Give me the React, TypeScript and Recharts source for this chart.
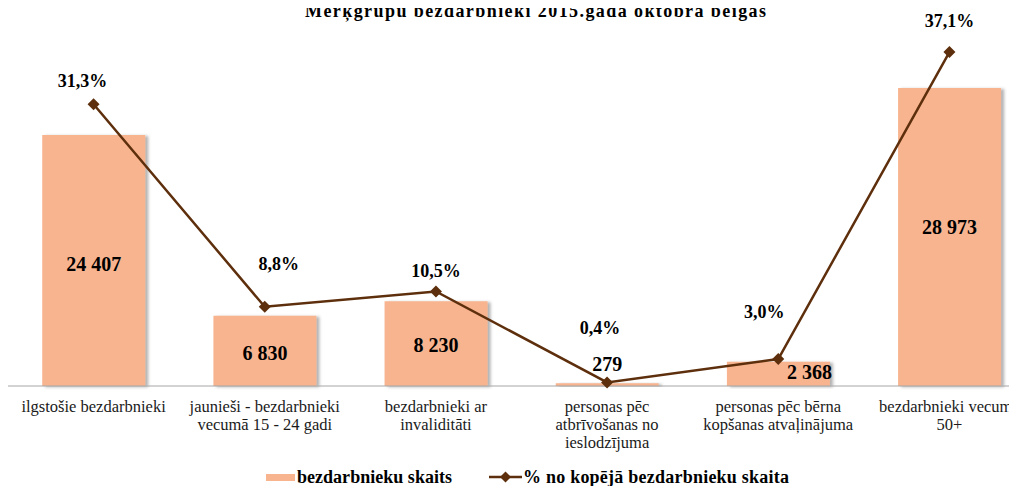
import React from 'react';
import { ComposedChart, Bar, Line, XAxis, YAxis, Legend, LabelList } from 'recharts';

const categories = [
  'ilgstošie bezdarbnieki',
  'jaunieši - bezdarbnieki\nvecumā 15 - 24 gadi',
  'bezdarbnieki ar\ninvaliditāti',
  'personas pēc\natbrīvošanas no\nieslodzījuma',
  'personas pēc bērna\nkopšanas atvaļinājuma',
  'bezdarbnieki vecumā\n50+',
];
const countValues = [24407, 6830, 8230, 279, 2368, 28973];
const countLabels = ['24 407', '6 830', '8 230', '279', '2 368', '28 973'];
const shareValues = [31.3, 8.8, 10.5, 0.4, 3.0, 37.1];
const shareLabels = ['31,3%', '8,8%', '10,5%', '0,4%', '3,0%', '37,1%'];

// label nudges (layout only), [dx, dy]
const barLabelShift = [[0, 4], [0, 2], [0, 1], [0, -21], [31, -2], [0, -10]];
const lineLabelShift = [[-11, -23], [14, -43], [0, -21], [-7, -54], [-14, -47], [0, -31]];

const chartData = categories.map((name, i) => ({
  name,
  count: countValues[i],
  share: shareValues[i],
  countLabel: countLabels[i],
  shareLabel: shareLabels[i],
}));

const BAR = '#F8B48F';
const LINE = '#5E2F0C';
const FONT = '"Liberation Serif", "Times New Roman", serif';

const Diamond = (props: any) => {
  const { cx, cy } = props;
  if (cx == null || cy == null) return null;
  const r = 6;
  return <path d={`M${cx},${cy - r}L${cx + r},${cy}L${cx},${cy + r}L${cx - r},${cy}Z`} fill={LINE} />;
};

const CategoryTick = (props: any) => {
  const { x, y, payload } = props;
  const lines = String(payload.value).split('\n');
  return (
    <text x={x} y={y} textAnchor="middle" fontFamily={FONT} fontSize={16.5} fill="#1a1a1a">
      {lines.map((l, i) => (
        <tspan key={i} x={x} dy={i === 0 ? 26 : 18}>{l}</tspan>
      ))}
    </text>
  );
};

const BarLabel = (props: any) => {
  const { x, y, width, height, index, value } = props;
  const [dx, dy] = barLabelShift[index];
  return (
    <text x={x + width / 2 + dx} y={y + height / 2 + dy} textAnchor="middle" dominantBaseline="central"
      fontFamily={FONT} fontSize={20} fontWeight="bold" fill="#000">
      {value}
    </text>
  );
};

const LineLabel = (props: any) => {
  const { x, y, index, value } = props;
  const [dx, dy] = lineLabelShift[index];
  return (
    <text x={x + dx} y={y + dy} textAnchor="middle" dominantBaseline="central"
      fontFamily={FONT} fontSize={18} fontWeight="bold" fill="#000">
      {value}
    </text>
  );
};

// legend drawn as svg, page x minus 8
const LegendContent = () => (
  <svg width={1009} height={24} style={{ display: 'block' }}>
    <rect x={258} y={8} width={29} height={7} fill={BAR} />
    <text x={289} y={11} dominantBaseline="central" fontFamily={FONT} fontSize={18} fontWeight="bold" fill="#000"
      textLength={155} lengthAdjust="spacing">bezdarbnieku skaits</text>
    <line x1={481} y1={11} x2={514} y2={11} stroke={LINE} strokeWidth={2.5} />
    <path d="M497.5,5.5L503,11L497.5,16.5L492,11Z" fill={LINE} />
    <text x={515} y={11} dominantBaseline="central" fontFamily={FONT} fontSize={18} fontWeight="bold" fill="#000"
      textLength={266} lengthAdjust="spacing">% no kopējā bezdarbnieku skaita</text>
  </svg>
);

export default function App() {
  return (
    <div style={{ width: 1009, height: 486, marginTop: -8, overflow: 'hidden', position: 'relative' }}>
      <ComposedChart width={1027} height={486} data={chartData} margin={{ top: 26, right: 0, bottom: 30, left: 0 }}
        barCategoryGap="20%">
        <defs>
          <filter id="barShadow" x="-10%" y="-10%" width="130%" height="120%">
            <feDropShadow dx={3} dy={1} stdDeviation={1.5} floodColor="#555" floodOpacity={0.45} />
          </filter>
        </defs>
        <text x={297} y={11} dominantBaseline="central" fontFamily={FONT} fontSize={18}
          fontWeight="bold" fill="#000" textLength={461} lengthAdjust="spacing">
          Mērķgrupu bezdarbnieki 2015.gada oktobra beigās
        </text>
        <XAxis dataKey="name" interval={0} height={70} tickLine={false} tickSize={0} tickMargin={0}
          axisLine={{ stroke: '#A6A6A6', strokeWidth: 1 }} tick={<CategoryTick />} />
        <YAxis yAxisId="count" hide domain={[0, 35000]} />
        <YAxis yAxisId="share" orientation="right" hide domain={[0, 40]} />
        <Legend layout="horizontal" verticalAlign="middle" align="center" content={<LegendContent />}
          wrapperStyle={{ top: 466, left: 0, width: 1009, height: 24 }} />
        <Bar yAxisId="count" dataKey="count" name="bezdarbnieku skaits" fill={BAR} filter="url(#barShadow)"
          isAnimationActive={false}>
          <LabelList dataKey="countLabel" content={<BarLabel />} />
        </Bar>
        <Line yAxisId="share" dataKey="share" name="% no kopējā bezdarbnieku skaita" type="linear" stroke={LINE}
          strokeWidth={2.5} dot={<Diamond />} activeDot={false} isAnimationActive={false}>
          <LabelList dataKey="shareLabel" content={<LineLabel />} />
        </Line>
      </ComposedChart>
    </div>
  );
}
